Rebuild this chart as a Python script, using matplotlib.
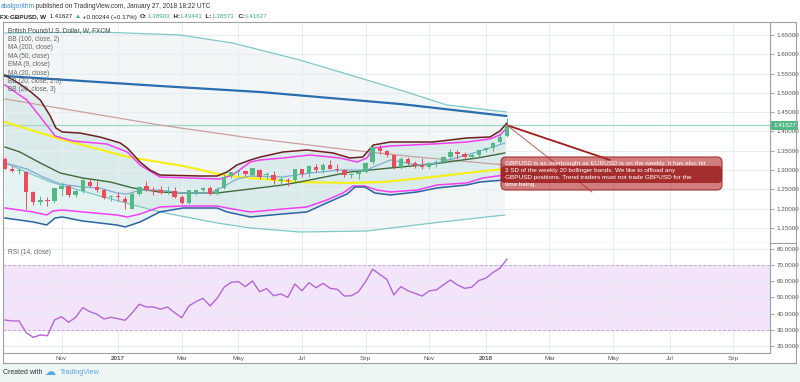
import numpy as np
import pandas as pd
import matplotlib
matplotlib.use("Agg")
import matplotlib.pyplot as plt
from matplotlib.patches import FancyBboxPatch, Rectangle
from matplotlib.transforms import IdentityTransform
from matplotlib.text import Annotation
from matplotlib.lines import Line2D
from matplotlib.ticker import FormatStrFormatter

plt.rcParams['font.family'] = ['Liberation Sans', 'DejaVu Sans']

# GBPUSD weekly candles, week of 2016-09-12 .. 2018-01-22
opens = [1.3290, 1.3040, 1.2970, 1.2960, 1.2430, 1.2180, 1.2230, 1.2190, 1.2500, 1.2590,
         1.2360, 1.2470, 1.2690, 1.2560, 1.2480, 1.2290, 1.2330, 1.2250, 1.2000, 1.2380,
         1.2600, 1.2490, 1.2490, 1.2440, 1.2470, 1.2300, 1.2150, 1.2400, 1.2480, 1.2540,
         1.2390, 1.2540, 1.2850, 1.2950, 1.2970, 1.2870, 1.3000, 1.2870, 1.2870, 1.2720,
         1.2750, 1.2740, 1.3030, 1.2930, 1.3080, 1.3000, 1.3130, 1.3030, 1.3010, 1.2880,
         1.2900, 1.2950, 1.3200, 1.3580, 1.3500, 1.3380, 1.3080, 1.3290, 1.3190, 1.3120,
         1.3080, 1.3180, 1.3220, 1.3330, 1.3470, 1.3410, 1.3330, 1.3380, 1.3510, 1.3570,
         1.3720, 1.38903]
highs = [1.3350, 1.3110, 1.3060, 1.2975, 1.2460, 1.2330, 1.2300, 1.2560, 1.2680, 1.2620,
         1.2510, 1.2770, 1.2770, 1.2710, 1.2500, 1.2360, 1.2430, 1.2330, 1.2420, 1.2590,
         1.2710, 1.2560, 1.2580, 1.2580, 1.2550, 1.2350, 1.2480, 1.2520, 1.2560, 1.2600,
         1.2560, 1.2900, 1.2960, 1.2990, 1.3010, 1.3050, 1.3040, 1.2940, 1.2980, 1.2810,
         1.2800, 1.3030, 1.3030, 1.3120, 1.3150, 1.3180, 1.3270, 1.3150, 1.3040, 1.2920,
         1.2980, 1.3220, 1.3620, 1.3660, 1.3520, 1.3400, 1.3340, 1.3340, 1.3240, 1.3320,
         1.3200, 1.3270, 1.3360, 1.3550, 1.3530, 1.3460, 1.3430, 1.3520, 1.3610, 1.3740,
         1.3940, 1.43441]
lows = [1.3020, 1.2940, 1.2910, 1.1980, 1.2090, 1.2090, 1.2080, 1.2150, 1.2330, 1.2300,
        1.2300, 1.2400, 1.2570, 1.2430, 1.2240, 1.2200, 1.2200, 1.1990, 1.1990, 1.2360,
        1.2450, 1.2350, 1.2380, 1.2390, 1.2270, 1.2110, 1.2110, 1.2350, 1.2430, 1.2360,
        1.2360, 1.2500, 1.2790, 1.2840, 1.2850, 1.2850, 1.2770, 1.2770, 1.2640, 1.2590,
        1.2590, 1.2700, 1.2810, 1.2810, 1.2960, 1.2930, 1.3020, 1.2950, 1.2810, 1.2800,
        1.2780, 1.2930, 1.3170, 1.3410, 1.3340, 1.3030, 1.3030, 1.3120, 1.3050, 1.3040,
        1.3030, 1.3080, 1.3190, 1.3300, 1.3300, 1.3300, 1.3300, 1.3350, 1.3480, 1.3460,
        1.3690, 1.38573]
closes = [1.3040, 1.2975, 1.2980, 1.2430, 1.2180, 1.2230, 1.2200, 1.2530, 1.2590, 1.2360,
          1.2470, 1.2740, 1.2600, 1.2490, 1.2280, 1.2330, 1.2300, 1.2180, 1.2380, 1.2560,
          1.2490, 1.2470, 1.2410, 1.2460, 1.2310, 1.2150, 1.2480, 1.2480, 1.2540, 1.2390,
          1.2520, 1.2820, 1.2950, 1.2970, 1.2900, 1.3050, 1.2820, 1.2900, 1.2740, 1.2760,
          1.2710, 1.3030, 1.2900, 1.3100, 1.3010, 1.3130, 1.3040, 1.3010, 1.2880, 1.2900,
          1.2940, 1.3190, 1.3590, 1.3500, 1.3400, 1.3080, 1.3280, 1.3190, 1.3120, 1.3080,
          1.3180, 1.3210, 1.3330, 1.3470, 1.3410, 1.3330, 1.3380, 1.3510, 1.3570, 1.3710,
          1.3860, 1.41627]

rsi = [36.0, 35.4, 35.4, 28.1, 25.2, 26.7, 26.2, 36.0, 38.0, 34.6, 37.7, 43.7, 41.2, 39.6,
       36.6, 37.7, 36.8, 35.8, 40.5, 45.8, 44.1, 44.1, 42.7, 44.1, 40.5, 37.4, 44.7, 47.4,
       49.5, 44.7, 49.5, 56.4, 59.5, 59.9, 56.8, 60.3, 53.6, 55.5, 51.1, 52.2, 50.1, 58.4,
       54.2, 59.2, 56.1, 58.8, 55.7, 55.1, 50.9, 51.1, 53.6, 59.9, 67.6, 64.4, 61.3, 51.6,
       56.8, 54.1, 52.6, 50.9, 54.1, 54.7, 57.8, 60.9, 57.8, 55.7, 56.4, 60.5, 62.0, 65.5,
       68.2, 73.8]

# indicator lines (bar index, price)
bb100_up_i = [0, 13.4, 24.8, 32.2, 41.7, 48.8, 55.9, 62.5, 70.9]
bb100_up = [1.6552, 1.6578, 1.6500, 1.6293, 1.5852, 1.5464, 1.5075, 1.4687, 1.4505]
bb100_mid_i = [0, 21.9, 34.7, 48.8, 58.3, 67.6, 70.7]
bb100_mid = [1.4842, 1.4168, 1.3832, 1.3521, 1.3339, 1.3184, 1.3132]
bb100_lo_i = [0, 6.4, 13.4, 21.9, 30, 34.7, 41.7, 51.2, 60.5, 70.7]
bb100_lo = [1.3184, 1.2692, 1.2329, 1.1915, 1.1630, 1.1500, 1.1396, 1.1422, 1.1630, 1.1837]

ma200_i = [0, 21.9, 36.1, 55.9, 70.9]
ma200 = [1.5438, 1.5179, 1.5023, 1.4712, 1.4402]

ma50_i = [0, 7.8, 17.4, 25.2, 30.8, 34.7, 41.7, 48.8, 53.5, 60.5, 65.3, 70.7]
ma50 = [1.4246, 1.3806, 1.3339, 1.3106, 1.2873, 1.2795, 1.2692, 1.2666, 1.2692, 1.2821,
        1.2925, 1.3030]

ma20_i = [0, 2.1, 5, 7.8, 11, 14.9, 18.1, 21.9, 25.2, 30, 34.7, 39.3, 41.7, 48.8, 54.5,
          60.5, 66.8, 70.7]
ma20 = [1.3598, 1.3469, 1.3184, 1.2925, 1.2795, 1.2692, 1.2536, 1.2433, 1.2407, 1.2407,
        1.2510, 1.2614, 1.2692, 1.2951, 1.3054, 1.3158, 1.3313, 1.3443]

ema9_i = [0, 3.1, 5.4, 7.8, 11, 13.4, 15.8, 17.3, 19.1, 21.9, 25.2, 29, 30.8, 32.8, 34.7,
          39.3, 43.1, 47.4, 51.2, 52.1, 54.5, 58.3, 61.1, 65.3, 68.6, 70.7]
ema9 = [1.3184, 1.3029, 1.2821, 1.2640, 1.2562, 1.2536, 1.2407, 1.2381, 1.2484, 1.2484,
        1.2407, 1.2407, 1.2562, 1.2769, 1.2847, 1.2821, 1.2925, 1.3003, 1.3003, 1.3080,
        1.3262, 1.3132, 1.3184, 1.3391, 1.3572, 1.3702]

bb20u3_i = [0, 2.1, 3.5, 5, 6.4, 7.2, 8.1, 10.6, 13.4, 14.9, 16.3, 17.3, 19.1, 20.5, 21.9,
            27.6, 30, 31.4, 32.8, 34.7, 36.1, 39.3, 42.7, 46.4, 48.8, 50.6, 52.1, 54.5,
            60.5, 65.3, 68.6, 70, 71]
bb20u3 = [1.5464, 1.5231, 1.5049, 1.4816, 1.4402, 1.4091, 1.3987, 1.3961, 1.3858, 1.3780,
          1.3702, 1.3572, 1.3210, 1.3003, 1.2873, 1.2847, 1.2847, 1.2951, 1.3132, 1.3262,
          1.3339, 1.3469, 1.3521, 1.3443, 1.3313, 1.3339, 1.3650, 1.3728, 1.3728, 1.3832,
          1.3858, 1.4013, 1.4220]
bb20u25_i = [0, 3.1, 5, 7.1, 9.6, 14.4, 17.3, 19.1, 21.9, 30.4, 32.2, 34.7, 36.1, 39.3,
             43.1, 47.4, 49.8, 51.2, 52.1, 54.5, 60.5, 65.3, 68.6, 70, 71]
bb20u25 = [1.5205, 1.4816, 1.4376, 1.3883, 1.3754, 1.3676, 1.3469, 1.3132, 1.2821, 1.2769,
           1.2873, 1.3210, 1.3262, 1.3313, 1.3391, 1.3313, 1.3210, 1.3313, 1.3572, 1.3624,
           1.3676, 1.3728, 1.3806, 1.3909, 1.4091]
bb20l25_i = [0, 4, 5.9, 6.8, 8.1, 11, 15.8, 17.3, 19.1, 21.9, 25.2, 30, 31.4, 34.7, 39.3,
             42.7, 45.5, 47.8, 49.2, 50.9, 52.6, 54.5, 58.3, 61.1, 65.3, 67.6, 70.7]
bb20l25 = [1.2018, 1.1915, 1.1837, 1.1940, 1.1966, 1.1915, 1.1837, 1.1785, 1.1863, 1.2044,
           1.2070, 1.2070, 1.2018, 1.1915, 1.1992, 1.2044, 1.2225, 1.2407, 1.2588, 1.2588,
           1.2484, 1.2433, 1.2484, 1.2614, 1.2666, 1.2795, 1.2873]
bb20l3_i = [0, 4, 5.9, 7.1, 8.1, 11, 15.8, 17, 19.1, 21.9, 25.2, 30, 31.4, 34.7, 39.3,
            42.7, 45.5, 48.4, 49.5, 50.9, 52.3, 54.5, 58.3, 61.1, 65.3, 67.2, 70.7]
bb20l3 = [1.1759, 1.1655, 1.1578, 1.1759, 1.1785, 1.1681, 1.1578, 1.1526, 1.1655, 1.1915,
          1.2018, 1.2018, 1.1915, 1.1785, 1.1863, 1.1915, 1.2148, 1.2381, 1.2562, 1.2562,
          1.2407, 1.2355, 1.2433, 1.2536, 1.2614, 1.2692, 1.2744]

legend_names = ["British Pound/U.S. Dollar, W, FXCM", "BB (100, close, 2)", "MA (200, close)",
                "MA (50, close)", "EMA (9, close)", "MA (20, close)", "BB (20, close, 2.5)",
                "BB (20, close, 3)"]
note_lines = ["GBPUSD is as overbought as EURUSD is on the weekly. It has also hit",
              "3 SD of the weekly 20 bollinger bands. We like to offload any",
              "GBPUSD positions. Trend traders must not trade GBPUSD for the",
              "time being."]

W, H = 800, 382
fig = plt.figure(figsize=(8, 3.82), dpi=100)
fig.patch.set_facecolor('white')


def fx(px):
    return px / W


def fy(py):
    return 1 - py / H


ax = fig.add_axes([fx(3), fy(243), fx(770) - fx(3), fy(22) - fy(243)])
ax2 = fig.add_axes([fx(3), fy(353), fx(770) - fx(3), fy(243) - fy(353)])

# month ticks (every 2nd month, first bar of month)
weeks = pd.date_range('2016-09-12', periods=110, freq='W-MON')
tick_idx, tick_lab = [], []
for i in range(1, len(weeks)):
    if weeks[i].month != weeks[i - 1].month and weeks[i].month % 2 == 1:
        tick_idx.append(i)
        tick_lab.append(str(weeks[i].year) if weeks[i].month == 1 else weeks[i].strftime('%b'))

gridc = '#e7eef1'
spc = '#a0a0a0'
for a in (ax, ax2):
    a.set_xlim(-0.28, 108.2)
    a.set_xticks(tick_idx)
    a.set_axisbelow(True)
    a.grid(True, color=gridc, lw=0.8)
    a.yaxis.tick_right()
    a.tick_params(axis='y', length=3, width=0.6, color='#999999', labelsize=4.5,
                  labelcolor='#555555', pad=2)
    for s in a.spines.values():
        s.set_color(spc)
        s.set_linewidth(0.8)
ax.tick_params(axis='x', length=0, labelbottom=False)
ax2.tick_params(axis='x', length=0, labelsize=4.5, labelcolor='#555555', pad=2)
ax2.set_xticklabels(tick_lab)
for t in ax2.get_xticklabels():
    if t.get_text().isdigit():
        t.set_fontweight('bold')
ax2.spines['top'].set_visible(False)

# ---- price panel ----
ax.set_ylim(1.1111, 1.6837)
ax.set_yticks(np.arange(1.15, 1.651, 0.05))
ax.yaxis.set_major_formatter(FormatStrFormatter('%.5f'))

# band fills
ax.fill(bb100_up_i + bb100_lo_i[::-1], bb100_up + bb100_lo[::-1], color='#dfe7e7', alpha=0.35,
        lw=0, zorder=0.2)
ax.fill(bb20u3_i + bb20l3_i[::-1], bb20u3 + bb20l3[::-1], color='#3fa6a6', alpha=0.13,
        lw=0, zorder=0.3)

ax.plot(bb100_up_i, bb100_up, color='#80c8c8', lw=0.9, zorder=2)
ax.plot(bb100_lo_i, bb100_lo, color='#80c8c8', lw=0.9, zorder=2)
ax.plot(bb100_mid_i, bb100_mid, color='#c9a0a0', lw=0.9, zorder=2)
ax.plot(ma200_i, ma200, color='#2a6ead', lw=1.6, zorder=2)
ax.plot(ma50_i, ma50, color='#f5f01c', lw=1.6, zorder=2)
ax.plot(ma20_i, ma20, color='#3f6a3b', lw=1.0, zorder=2)
ax.plot(ema9_i, ema9, color='#7eaed2', lw=0.9, zorder=2)
ax.plot(bb20u25_i, bb20u25, color='#f23ff2', lw=1.1, zorder=2)
ax.plot(bb20l25_i, bb20l25, color='#f23ff2', lw=1.1, zorder=2)
ax.plot(bb20u3_i, bb20u3, color='#6e2020', lw=1.1, zorder=2)
ax.plot(bb20l3_i, bb20l3, color='#2f62a0', lw=1.1, zorder=2)

# candles
x = np.arange(len(closes))
o, h, l, c = (np.array(v) for v in (opens, highs, lows, closes))
cols = np.where(c >= o, '#53b987', '#eb4d5c')
ax.vlines(x, l, h, colors=cols, lw=0.7, zorder=4)
ax.bar(x, np.maximum(np.abs(c - o), 0.002), bottom=np.minimum(o, c), width=0.62,
       color=cols, lw=0, zorder=5)

# last price line + label
ax.axhline(closes[-1], color='#9fd8c6', lw=0.9, zorder=1.5)
ax.annotate(f'{closes[-1]:.5f}', xy=(1, closes[-1]), xycoords=('axes fraction', 'data'),
            xytext=(2.2, 0), textcoords='offset points', va='center', ha='left',
            fontsize=4.5, color='white', annotation_clip=False,
            bbox=dict(boxstyle='square,pad=0.35', fc='#53b987', ec='none'))

# callout lines from last candle
ax.annotate('', xy=(x[-1], closes[-1]), xytext=(610, H - 160), textcoords='figure pixels',
            arrowprops=dict(arrowstyle='-', color='#9e1c1c', lw=1.3, shrinkA=0, shrinkB=0),
            zorder=6)
ax.annotate('', xy=(x[-1], closes[-1]), xytext=(592, H - 192), textcoords='figure pixels',
            arrowprops=dict(arrowstyle='-', color='#c47070', lw=0.8, shrinkA=0, shrinkB=0),
            zorder=6)

# ---- RSI panel ----
ax2.set_ylim(15.47, 83.9)
ax2.set_yticks(np.arange(20, 81, 10))
ax2.yaxis.set_major_formatter(FormatStrFormatter('%.4f'))
ax2.axhspan(30, 70, color='#f3e4fc', lw=0, zorder=0.2)
ax2.axhline(70, color='#c9a3d9', ls=(0, (3, 2)), lw=0.7, zorder=1)
ax2.axhline(30, color='#c9a3d9', ls=(0, (3, 2)), lw=0.7, zorder=1)
ax2.plot(x, rsi, color='#b466d3', lw=1.0, zorder=3)

# ---- texts ----
for k, name in enumerate(legend_names):
    fig.text(fx(8), fy(30.7 + 8.47 * k), name, fontsize=4.7,
             color='#444444' if k == 0 else '#666666', va='center')
fig.text(fx(8), fy(252.5), "RSI (14, close)", fontsize=4.7, color='#666666', va='center')


def chain(parts, x0, ybot, size):
    s, col, wt = parts[0]
    prev = fig.text(x0, ybot, s, color=col, fontsize=size, weight=wt, va='bottom')
    for s, col, wt in parts[1:]:
        prev = fig.add_artist(Annotation(s, xy=(1, 0), xycoords=prev, va='bottom',
                                         ha='left', color=col, fontsize=size, weight=wt))


dark = '#333333'
grn = '#3cae6e'
chain([("abalgorithm", '#3c8ed6', 'normal'),
       (" published on TradingView.com, January 27, 2018 18:22 UTC", dark, 'normal')],
      fx(0.5), fy(10.5), 4.7)
chain([("FX:GBPUSD, W", '#222222', 'bold'), ("  1.41627 ", '#222222', 'normal'),
       ("\u25B2", grn, 'normal'), (" +0.00244 (+0.17%)  ", '#222222', 'normal'),
       ("O:", '#222222', 'bold'), ("1.38903", grn, 'normal'), ("  H:", '#222222', 'bold'),
       ("1.43441", grn, 'normal'), ("  L:", '#222222', 'bold'), ("1.38573", grn, 'normal'),
       ("  C:", '#222222', 'bold'), ("1.41627", grn, 'normal')],
      fx(0.5), fy(19.5), 4.5)

# callout box
fig.add_artist(FancyBboxPatch((501, H - 190), 221, 33, boxstyle='round,pad=0,rounding_size=5',
                              transform=IdentityTransform(), fc=(0.70, 0.15, 0.15, 0.6),
                              ec='#a83232', lw=0.8, zorder=10))
fig.add_artist(FancyBboxPatch((501, H - 183), 221, 17, boxstyle='round,pad=0,rounding_size=4',
                              transform=IdentityTransform(), fc=(0.6, 0.1, 0.1, 0.8),
                              ec='none', zorder=10.5))
for k, line in enumerate(note_lines):
    fig.text(fx(505), fy(163.5 + 7 * k), line, fontsize=4.6, color='white', va='center',
             zorder=11)

# outer frame pieces
fr = dict(color=spc, lw=0.8, transform=fig.transFigure)
fig.add_artist(Line2D([fx(770), fx(796)], [fy(22), fy(22)], **fr))
fig.add_artist(Line2D([fx(796), fx(796)], [fy(22), fy(363)], **fr))
fig.add_artist(Line2D([fx(3), fx(796)], [fy(363), fy(363)], **fr))
fig.add_artist(Line2D([fx(3), fx(3)], [fy(353), fy(363)], **fr))
fig.add_artist(Line2D([fx(770), fx(796)], [fy(243), fy(243)], **fr))

# footer
fig.add_artist(Rectangle((0, 0), 1, fy(363), transform=fig.transFigure, fc='#eef5f5',
                         ec='none', zorder=-5))
fig.text(fx(3), fy(372.5), "Created with", fontsize=5, color='#333333', va='center')
fig.text(fx(44), fy(372), "\u2601", fontsize=8, color='#56a8de', va='center',
         family='DejaVu Sans')
fig.text(fx(60), fy(372.5), "TradingView", fontsize=5.2, color='#5ca8dd', va='center')

fig.savefig('out.png', dpi=100)
